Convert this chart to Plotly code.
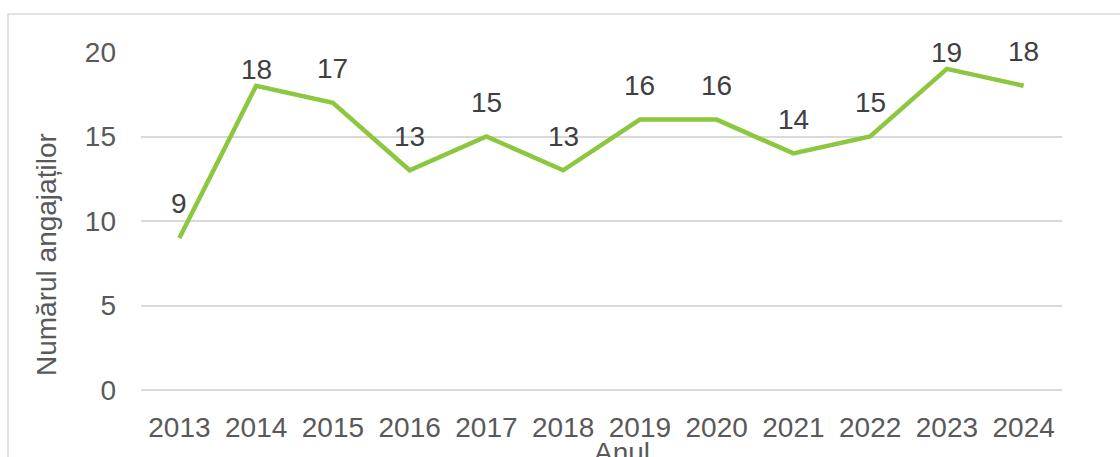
import plotly.graph_objects as go

# ── Data ───────────────────────────────────────────────────────
years = ["2013", "2014", "2015", "2016", "2017", "2018",
         "2019", "2020", "2021", "2022", "2023", "2024"]
employees = [9, 18, 17, 13, 15, 13, 16, 16, 14, 15, 19, 18]
y_ticks = [0, 5, 10, 15, 20]

# labels that sit closer to the line than the rest
close_labels = {"2014", "2023"}

C_LINE = "#8DC63F"
C_TEXT = "#595959"
C_LABEL = "#404040"
C_GRID = "#D9D9D9"
FONT = "Liberation Sans, Arial, sans-serif"

W, H = 1120, 457
M_L, M_R, M_T, M_B = 141, 58, 52, 67
PW, PH = W - M_L - M_R, H - M_T - M_B


def px_x(x):
    return (x - M_L) / PW


def px_y(y):
    return (H - M_B - y) / PH


fig = go.Figure()
fig.add_trace(
    go.Scatter(
        x=years,
        y=employees,
        mode="lines",
        line=dict(color=C_LINE, width=4.5),
        hoverinfo="x+y",
        showlegend=False,
    )
)

# data labels (category axis: annotation x given as category index)
for i, (yr, val) in enumerate(zip(years, employees)):
    fig.add_annotation(
        x=i,
        y=val,
        text=str(val),
        showarrow=False,
        xanchor="center",
        yanchor="middle",
        yshift=16 if yr in close_labels else 34,
        font=dict(family=FONT, size=28, color=C_LABEL),
    )

# axis titles
fig.add_annotation(
    x=px_x(46), y=px_y(255), xref="paper", yref="paper",
    text="Numărul angajaților", textangle=-90, showarrow=False,
    xanchor="center", yanchor="middle",
    font=dict(family=FONT, size=28, color=C_TEXT),
)
fig.add_annotation(
    x=px_x(622), y=px_y(452), xref="paper", yref="paper",
    text="Anul", showarrow=False,
    xanchor="center", yanchor="middle",
    font=dict(family=FONT, size=28, color=C_TEXT),
)

# chart frame (cropped on right/bottom)
fig.add_shape(
    type="rect", xref="paper", yref="paper",
    x0=px_x(8), x1=px_x(1130), y0=px_y(470), y1=px_y(14),
    line=dict(color=C_GRID, width=1.5), layer="below",
)

fig.update_layout(
    width=W,
    height=H,
    margin=dict(l=M_L, r=M_R, t=M_T, b=M_B),
    plot_bgcolor="white",
    paper_bgcolor="white",
    font=dict(family=FONT, size=28, color=C_TEXT),
    xaxis=dict(
        type="category",
        range=[-0.5, len(years) - 0.5],
        showgrid=False,
        showline=False,
        zeroline=False,
        ticks="",
        ticklabelstandoff=18,
        tickfont=dict(family=FONT, size=28, color=C_TEXT),
        fixedrange=True,
    ),
    yaxis=dict(
        range=[0, 20],
        tickvals=y_ticks,
        showgrid=True,
        gridcolor=C_GRID,
        gridwidth=1.5,
        zeroline=True,
        zerolinecolor=C_GRID,
        zerolinewidth=1.5,
        showline=False,
        ticks="",
        ticklabelstandoff=24,
        tickfont=dict(family=FONT, size=28, color=C_TEXT),
        fixedrange=True,
    ),
)

fig.write_html(
    "out.html",
    config={"displayModeBar": False},
    post_script="document.body.style.margin='0';document.body.style.overflow='hidden';",
)
